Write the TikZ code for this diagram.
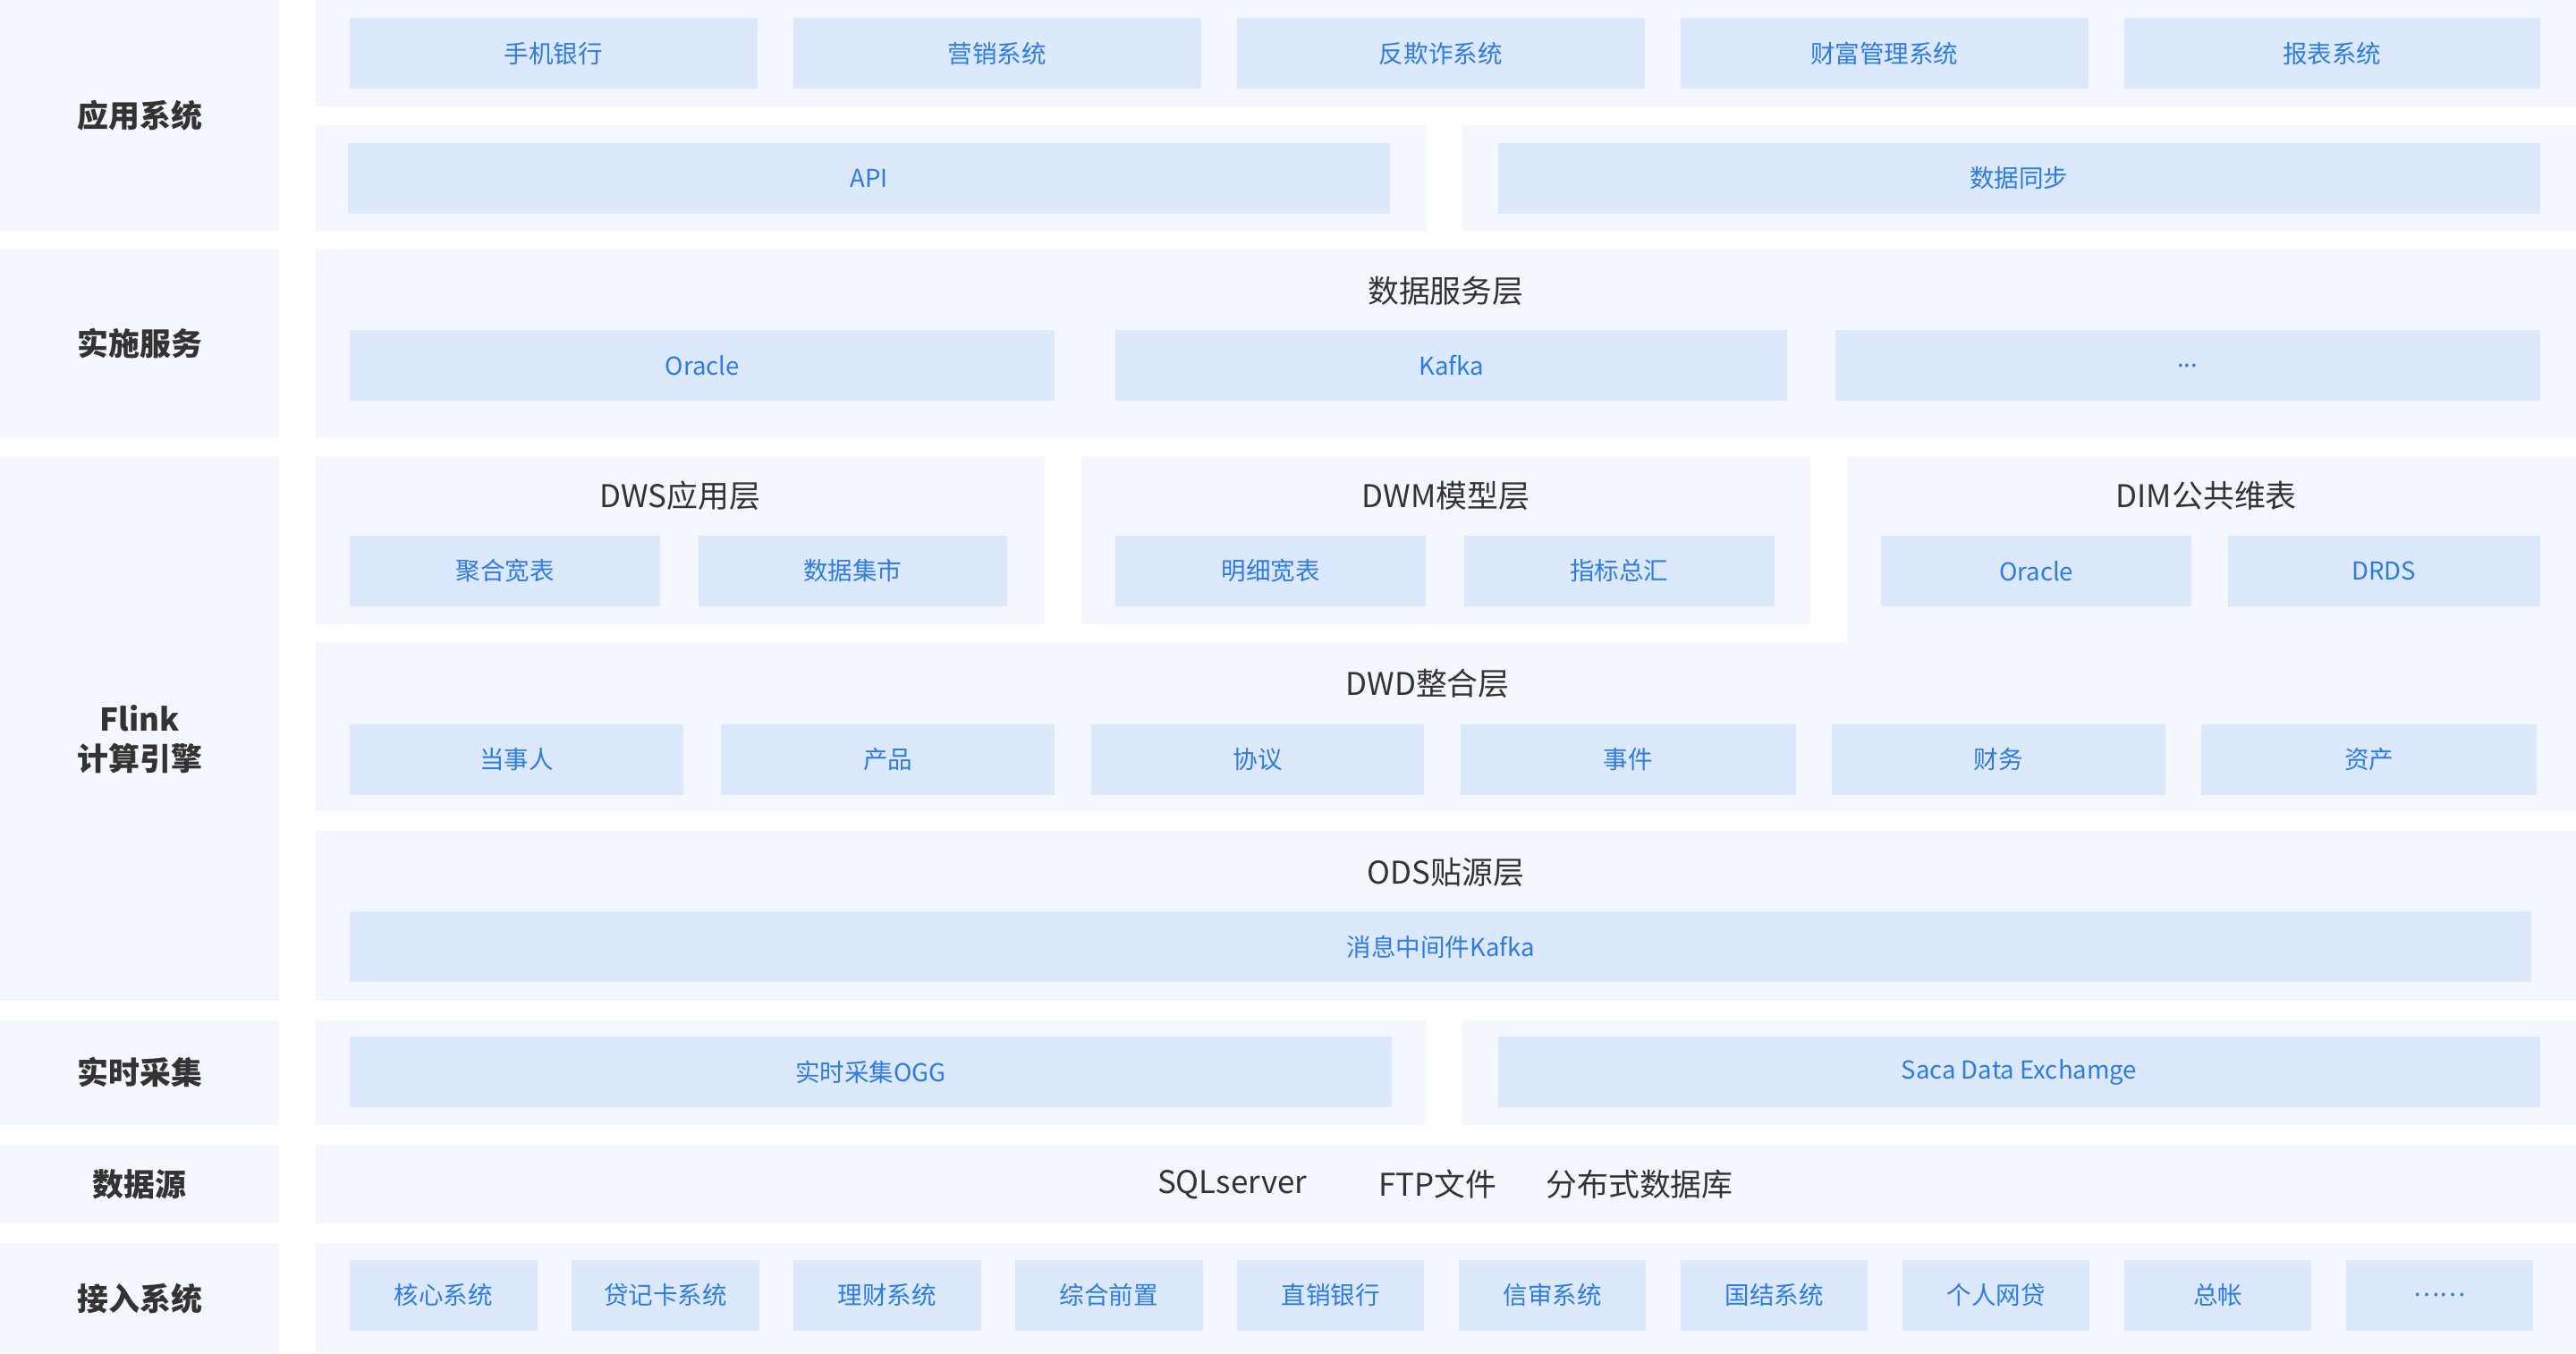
\documentclass[tikz,border=0pt]{standalone}
\usepackage{fontspec}
\setmainfont{Noto Sans CJK SC}
\definecolor{panel}{HTML}{F4F7FD}
\definecolor{boxc}{HTML}{DCE8FB}
\definecolor{btext}{HTML}{2D7BE5}
\definecolor{ttext}{HTML}{333333}
\tikzset{
 pnl/.style={fill=panel,draw=none,inner sep=0pt,outer sep=0pt},
 box/.style={fill=boxc,draw=none,inner sep=0pt,text=btext,font=\fontsize{15}{18}\selectfont},
 ttl/.style={text=ttext,font=\fontsize{19}{22}\selectfont},
 lbl/.style={text=ttext,font=\fontsize{19}{24}\selectfont\bfseries,align=center},
}
% name x1 y1 x2 y2 text
\newcommand\mybx[7]{\node[#1,minimum width={#5pt-#3pt},minimum height={#6pt-#4pt}] (#2) at ({(#3+#5)/2},{(#4+#6)/2}) {#7};}
\begin{document}
\begin{tikzpicture}[x=1pt,y=-1pt]
\useasboundingbox[fill=white] (0,0) rectangle (1568,824);
% left labels
\mybx{pnl}{L1}{0}{0}{170}{141}{}
\node[lbl] (l1) at (L1) {应用系统};
\mybx{pnl}{L2}{0}{152}{170}{266}{}
\node[lbl] (l2) at (L2) {实施服务};
\mybx{pnl}{L3}{0}{278}{170}{609}{}
\node[lbl] (l3) at (85,450) {Flink\\计算引擎};
\mybx{pnl}{L4}{0}{621}{170}{685}{}
\node[lbl] (l4) at (L4) {实时采集};
\mybx{pnl}{L5}{0}{697}{170}{745}{}
\node[lbl] (l5) at (L5) {数据源};
\mybx{pnl}{L6}{0}{757}{170}{824}{}
\node[lbl] (l6) at (L6) {接入系统};
% app
\mybx{pnl}{P1}{192}{0}{1568}{65}{}
\mybx{box}{a1}{213}{11}{461}{54}{手机银行}
\mybx{box}{a2}{483}{11}{731}{54}{营销系统}
\mybx{box}{a3}{753}{11}{1001}{54}{反欺诈系统}
\mybx{box}{a4}{1023}{11}{1271}{54}{财富管理系统}
\mybx{box}{a5}{1293}{11}{1546}{54}{报表系统}
\mybx{pnl}{P2}{192}{76}{868}{141}{}
\mybx{pnl}{P3}{890}{76}{1568}{141}{}
\mybx{box}{api}{212}{87}{846}{130}{API}
\mybx{box}{sync}{912}{87}{1546}{130}{数据同步}
% service
\mybx{pnl}{P4}{192}{152}{1568}{266}{}
\node[ttl] (t1) at (880,177) {数据服务层};
\mybx{box}{s1}{213}{201}{642}{244}{Oracle}
\mybx{box}{s2}{679}{201}{1088}{244}{Kafka}
\mybx{box}{s3}{1117}{201}{1546}{244}{...}
% flink
\mybx{pnl}{P5}{192}{278}{636}{380}{}
\mybx{pnl}{P6}{658}{278}{1102}{380}{}
\mybx{pnl}{P7}{1124}{278}{1568}{392}{}
\node[ttl] (t2) at (414,302) {DWS应用层};
\node[ttl] (t3) at (880,302) {DWM模型层};
\node[ttl] (t4) at (1343,302) {DIM公共维表};
\mybx{box}{w1}{213}{326}{402}{369}{聚合宽表}
\mybx{box}{w2}{425}{326}{613}{369}{数据集市}
\mybx{box}{w3}{679}{326}{868}{369}{明细宽表}
\mybx{box}{w4}{891}{326}{1080}{369}{指标总汇}
\mybx{box}{w5}{1145}{326}{1334}{369}{Oracle}
\mybx{box}{w6}{1356}{326}{1546}{369}{DRDS}
\mybx{pnl}{P8}{192}{391}{1568}{494}{}
\node[ttl] (t5) at (869,416) {DWD整合层};
\mybx{box}{d1}{213}{441}{416}{484}{当事人}
\mybx{box}{d2}{439}{441}{642}{484}{产品}
\mybx{box}{d3}{664}{441}{867}{484}{协议}
\mybx{box}{d4}{889}{441}{1093}{484}{事件}
\mybx{box}{d5}{1115}{441}{1318}{484}{财务}
\mybx{box}{d6}{1340}{441}{1544}{484}{资产}
\mybx{pnl}{P9}{192}{506}{1568}{609}{}
\node[ttl] (t6) at (880,531) {ODS贴源层};
\mybx{box}{o1}{213}{555}{1541}{598}{消息中间件Kafka}
% realtime
\mybx{pnl}{P10}{192}{621}{868}{685}{}
\mybx{pnl}{P11}{890}{621}{1568}{685}{}
\mybx{box}{r1}{213}{631}{847}{674}{实时采集OGG}
\mybx{box}{r2}{912}{631}{1546}{674}{Saca Data Exchamge}
% sources
\mybx{pnl}{P12}{192}{697}{1568}{745}{}
\node[ttl] (q1) at (750,721) {SQLserver};
\node[ttl] (q2) at (875,721) {FTP文件};
\node[ttl] (q3) at (998,721) {分布式数据库};
% access
\mybx{pnl}{P13}{192}{757}{1568}{824}{}
\mybx{box}{c1}{213}{767}{327}{810}{核心系统}
\mybx{box}{c2}{348}{767}{462}{810}{贷记卡系统}
\mybx{box}{c3}{483}{767}{597}{810}{理财系统}
\mybx{box}{c4}{618}{767}{732}{810}{综合前置}
\mybx{box}{c5}{753}{767}{867}{810}{直销银行}
\mybx{box}{c6}{888}{767}{1002}{810}{信审系统}
\mybx{box}{c7}{1023}{767}{1137}{810}{国结系统}
\mybx{box}{c8}{1158}{767}{1272}{810}{个人网贷}
\mybx{box}{c9}{1293}{767}{1407}{810}{总帐}
\mybx{box}{c10}{1428}{767}{1542}{810}{……}
\end{tikzpicture}
\end{document}
